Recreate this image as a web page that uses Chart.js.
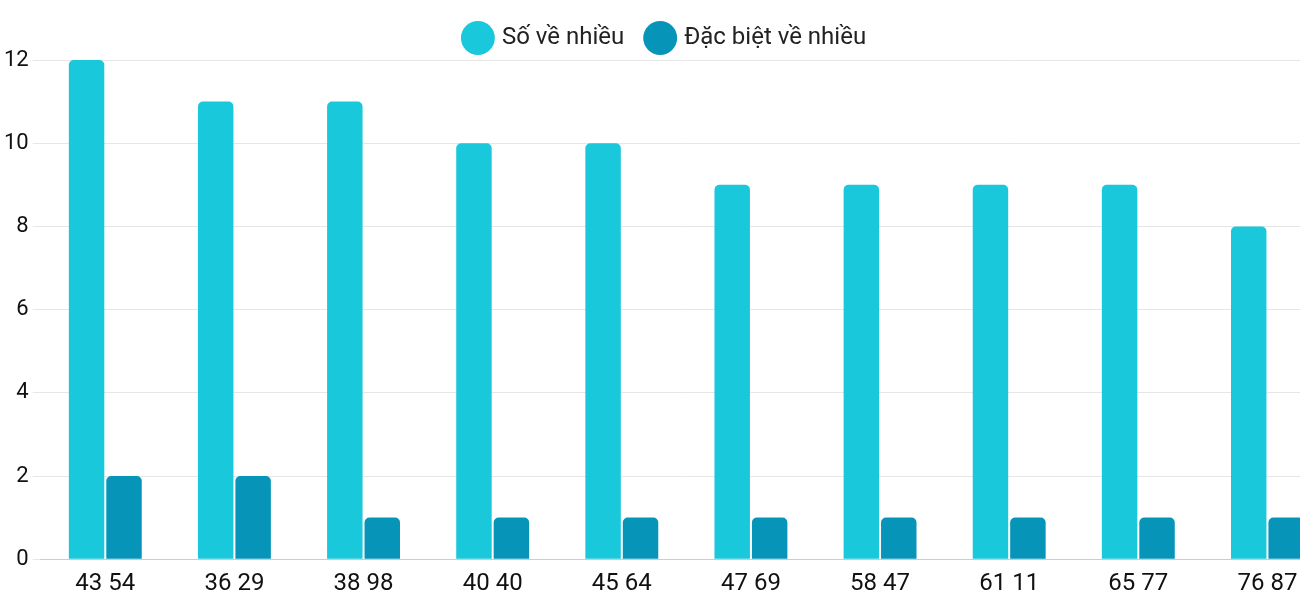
<!DOCTYPE html>
<html><head><meta charset="utf-8">
<script src="https://cdn.jsdelivr.net/npm/chart.js@4"></script>
<style>html,body{margin:0;background:#fff;overflow:hidden;width:1300px;height:600px}#wrap{width:1332px;height:600px}</style>
</head><body><div id="wrap"><canvas id="c"></canvas></div>
<script>
const categories = ["43 54","36 29","38 98","40 40","45 64","47 69","58 47","61 11","65 77","76 87"];
const soVeNhieu = [12,11,11,10,10,9,9,9,9,8];
const dacBiet = [2,2,1,1,1,1,1,1,1,1];
const yTicks = [0,2,4,6,8,10,12];

new Chart(document.getElementById("c"), {
  type: "bar",
  data: {
    labels: categories,
    datasets: [
      { label: "Số về nhiều", data: soVeNhieu, backgroundColor: "#1AC8DB", borderRadius: {topLeft: 5, topRight: 5}, borderSkipped: "bottom" },
      { label: "Đặc biệt về nhiều", data: dacBiet, backgroundColor: "#0695B9", borderRadius: {topLeft: 5, topRight: 5}, borderSkipped: "bottom" }
    ]
  },
  options: {
    responsive: true,
    maintainAspectRatio: false,
    animation: false,
    layout: { padding: { left: 0, right: 0, top: 2, bottom: 0 } },
    datasets: { bar: { categoryPercentage: 0.58, barPercentage: 0.947 } },
    plugins: {
      legend: {
        labels: { usePointStyle: true, pointStyle: "circle", boxWidth: 26, boxHeight: 26, padding: 24,
          font: { family: "Roboto", size: 24 }, color: "#222" }
      },
      tooltip: { enabled: false }
    },
    scales: {
      x: {
        grid: { display: false },
        border: { color: "#ccc" },
        ticks: { font: { family: "Roboto", size: 24 }, color: "#111", padding: 2 }
      },
      y: {
        min: 0, max: 12,
        afterBuildTicks: (ax) => { ax.ticks = yTicks.map(v => ({ value: v })); },
        grid: { color: "#e6e6e6" },
        border: { display: false },
        ticks: { font: { family: "Roboto", size: 22 }, color: "#111", padding: 4 }
      }
    }
  }
});
</script></body></html>
